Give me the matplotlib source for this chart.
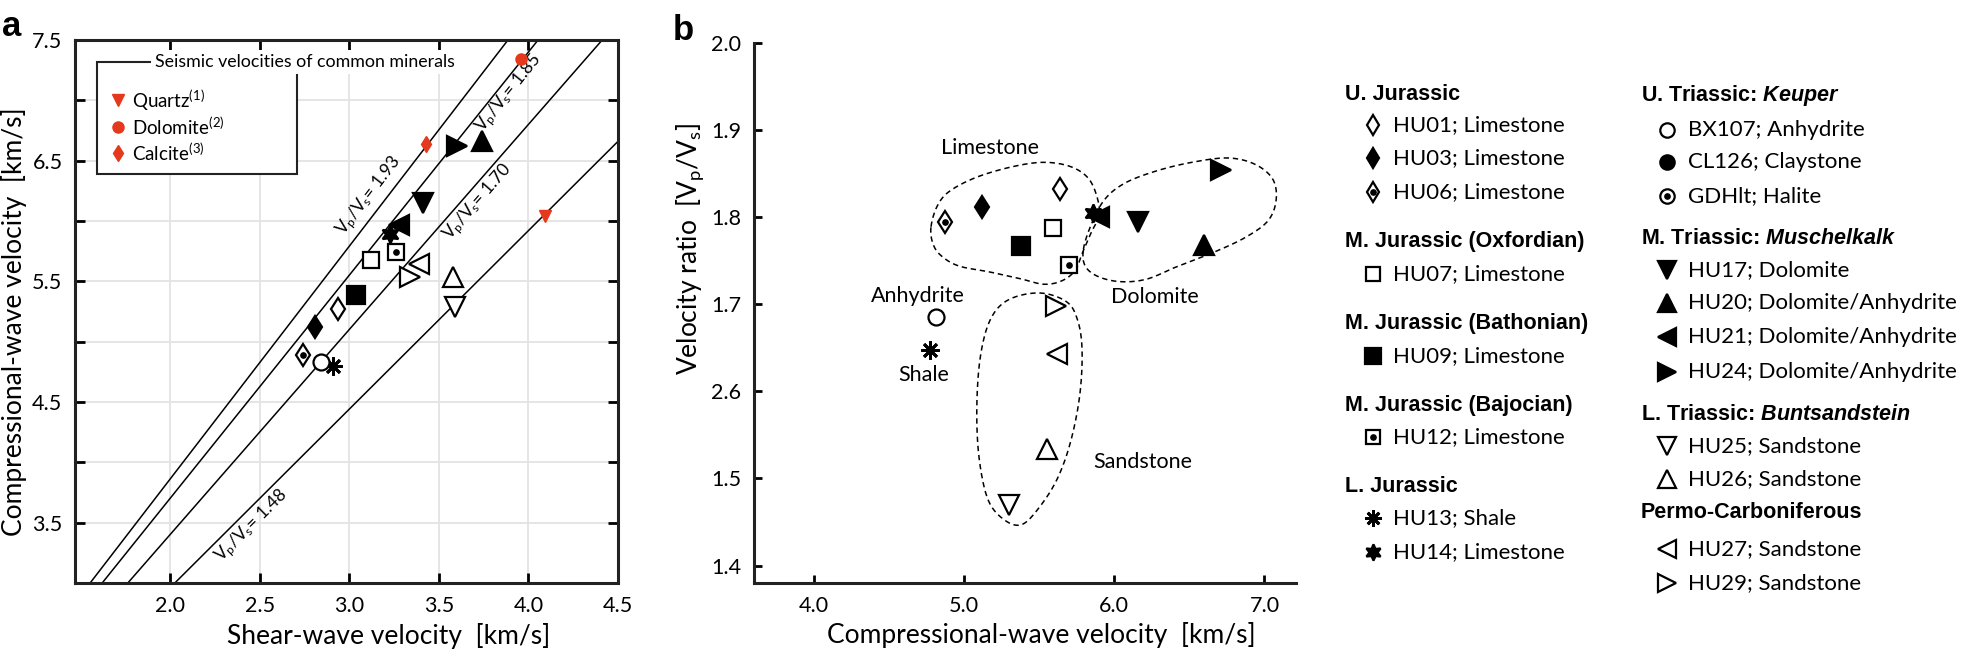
import numpy as np
import matplotlib
matplotlib.use("Agg")
import matplotlib.pyplot as plt
from matplotlib.patches import Rectangle

plt.rcParams["font.family"] = ["Lato", "DejaVu Sans"]
plt.rcParams["mathtext.fontset"] = "custom"
plt.rcParams["mathtext.rm"] = "Lato"
plt.rcParams["mathtext.it"] = "Lato:italic"
plt.rcParams["mathtext.bf"] = "Liberation Sans:bold"
plt.rcParams["mathtext.bfit"] = "Liberation Sans:bold:italic"
plt.rcParams["mathtext.default"] = "regular"

W, H = 1961, 653
RED = "#e5391d"

# ---- data: samples -------------------------------------------------------
samples = ["HU01", "HU03", "HU06", "HU07", "HU09", "HU12", "HU13", "HU14",
           "BX107", "HU17", "HU20", "HU21", "HU24", "HU25", "HU26", "HU27", "HU29"]
# panel a: shear-wave vs compressional-wave velocity [km/s]
vs_a = [2.94, 2.81, 2.74, 3.12, 3.04, 3.26, 2.91, 3.23,
        2.84, 3.41, 3.74, 3.28, 3.60, 3.59, 3.58, 3.39, 3.34]
vp_a = [5.27, 5.12, 4.89, 5.68, 5.39, 5.74, 4.80, 5.89,
        4.83, 6.15, 6.66, 5.97, 6.62, 5.29, 5.54, 5.64, 5.54]
# panel b: compressional-wave velocity vs Vp/Vs
vp_b = [5.64, 5.12, 4.87, 5.59, 5.38, 5.70, 4.77, 5.86,
        4.81, 6.16, 6.60, 5.90, 6.71, 5.30, 5.55, 5.62, 5.61]
ratio_b = [1.832, 1.812, 1.795, 1.788, 1.767, 1.745, 1.647, 1.805,
           1.685, 1.794, 1.768, 1.800, 1.854, 1.470, 1.534, 1.643, 1.698]

# reference minerals (panel a)
minerals = ["Quartz", "Dolomite", "Calcite"]
mineral_refs = ["(1)", "(2)", "(3)"]
mineral_vs = [4.09, 3.96, 3.43]
mineral_vp = [6.04, 7.34, 6.64]

# constant Vp/Vs lines and where their labels sit
ratios = [1.93, 1.85, 1.70, 1.48]
ratio_label_vs = [3.11, 3.89, 3.72, 2.46]
ratio_label_vp = [6.21, 7.06, 6.16, 3.47]

# lithology outlines in panel b (Vp, Vp/Vs)
limestone_vp = [4.779, 4.821, 4.904, 5.084, 5.322, 5.531, 5.710, 5.830, 5.890, 5.896,
                5.845, 5.785, 5.740, 5.651, 5.531, 5.382, 5.173, 4.964, 4.845, 4.791]
limestone_r = [1.789, 1.813, 1.830, 1.846, 1.858, 1.863, 1.858, 1.844, 1.820, 1.801,
               1.782, 1.758, 1.739, 1.727, 1.723, 1.729, 1.737, 1.744, 1.756, 1.770]
dolomite_vp = [5.794, 5.845, 5.934, 6.069, 6.278, 6.516, 6.755, 6.934, 7.054, 7.078,
               7.024, 6.875, 6.666, 6.427, 6.218, 6.039, 5.890, 5.806]
dolomite_r = [1.763, 1.791, 1.820, 1.839, 1.853, 1.863, 1.868, 1.861, 1.844, 1.820,
              1.796, 1.777, 1.760, 1.744, 1.729, 1.726, 1.732, 1.744]
sandstone_vp = [5.501, 5.681, 5.755, 5.785, 5.770, 5.710, 5.621, 5.501,
                5.382, 5.263, 5.158, 5.099, 5.084, 5.107, 5.173, 5.293]
sandstone_r = [1.713, 1.703, 1.682, 1.648, 1.596, 1.543, 1.500, 1.467,
               1.447, 1.453, 1.476, 1.524, 1.581, 1.639, 1.682, 1.705]

lith_names = ["Limestone", "Dolomite", "Anhydrite", "Shale", "Sandstone"]
lith_vp = [5.17, 6.27, 4.69, 4.73, 6.19]
lith_r = [1.880, 1.708, 1.709, 1.619, 1.519]

a_xticks = [2.0, 2.5, 3.0, 3.5, 4.0, 4.5]
a_yticks = [3.5, 4.0, 4.5, 5.0, 5.5, 6.0, 6.5, 7.0, 7.5]
a_yticklabels = ["3.5", "", "4.5", "", "5.5", "", "6.5", "", "7.5"]
b_xticks = [4.0, 5.0, 6.0, 7.0]
b_yticks = [1.4, 1.5, 1.6, 1.7, 1.8, 1.9, 2.0]
b_yticklabels = ["1.4", "1.5", "2.6", "1.7", "1.8", "1.9", "2.0"]

# legend groups (header, entries)
legend_left = [
    (r"U. Jurassic", [("HU01", "Limestone"), ("HU03", "Limestone"), ("HU06", "Limestone")]),
    (r"M. Jurassic (Oxfordian)", [("HU07", "Limestone")]),
    (r"M. Jurassic (Bathonian)", [("HU09", "Limestone")]),
    (r"M. Jurassic (Bajocian)", [("HU12", "Limestone")]),
    (r"L. Jurassic", [("HU13", "Shale"), ("HU14", "Limestone")]),
]
legend_right = [
    (r"U. Triassic: $\mathbfit{Keuper}$", [("BX107", "Anhydrite"), ("CL126", "Claystone"), ("GDHlt", "Halite")]),
    (r"M. Triassic: $\mathbfit{Muschelkalk}$", [("HU17", "Dolomite"), ("HU20", "Dolomite/Anhydrite"),
                                               ("HU21", "Dolomite/Anhydrite"), ("HU24", "Dolomite/Anhydrite")]),
    (r"L. Triassic: $\mathbfit{Buntsandstein}$", [("HU25", "Sandstone"), ("HU26", "Sandstone")]),
    (r"Permo-Carboniferous", [("HU27", "Sandstone"), ("HU29", "Sandstone")]),
]

# ---- marker styles -----------------------------------------------------------
# marker, filled, dot in centre, size
style = {
    "HU01": ("d", False, False, 11.5), "HU03": ("d", True, False, 11.5), "HU06": ("d", False, True, 11.5),
    "HU07": ("s", False, False, 11.5), "HU09": ("s", True, False, 12.5), "HU12": ("s", False, True, 11.5),
    "HU13": ((8, 2, 0), True, False, 13), "HU14": ((6, 1, 0), True, False, 13),
    "BX107": ("o", False, False, 11.5), "CL126": ("o", True, False, 11.5), "GDHlt": ("o", False, True, 11.5),
    "HU17": ("v", True, False, 15), "HU20": ("^", True, False, 15), "HU21": ("<", True, False, 15),
    "HU24": (">", True, False, 15), "HU25": ("v", False, False, 15), "HU26": ("^", False, False, 15),
    "HU27": ("<", False, False, 15), "HU29": (">", False, False, 15),
}


def draw_marker(ax, x, y, name, scale=1.0):
    m, filled, dot, ms = style[name]
    ms = ms * scale
    mew = 2.0 if m == (8, 2, 0) else 1.6
    ax.plot(x, y, ls="none", marker=m, ms=ms, mfc="black" if filled else "white",
            mec="black", mew=mew, zorder=5)
    if dot:
        ax.plot(x, y, ls="none", marker="o", ms=3.8, mfc="black", mec="black", zorder=6)


def smooth_closed(x, y, n=24):
    pts = np.column_stack([x, y])
    P = np.vstack([pts[-1], pts, pts[0], pts[1]])
    t = np.linspace(0, 1, n, endpoint=False)[:, None]
    segs = []
    for i in range(1, len(pts) + 1):
        p0, p1, p2, p3 = P[i - 1], P[i], P[i + 1], P[i + 2]
        segs.append(0.5 * (2 * p1 + (-p0 + p2) * t + (2 * p0 - 5 * p1 + 4 * p2 - p3) * t ** 2
                           + (-p0 + 3 * p1 - 3 * p2 + p3) * t ** 3))
    out = np.vstack(segs + [segs[0][:1]])
    return out[:, 0], out[:, 1]


fig = plt.figure(figsize=(W / 100, H / 100), dpi=100)

# ---- panel a -----------------------------------------------------------------
ax = fig.add_axes([75 / W, 1 - 583 / H, 543 / W, 543 / H])
ax.set_xlim(1.47, 4.5)
ax.set_ylim(3.0, 7.5)
ax.set_xticks(a_xticks)
ax.set_xticklabels([f"{v:.1f}" for v in a_xticks])
ax.set_yticks(a_yticks)
ax.set_yticklabels(a_yticklabels)
ax.tick_params(direction="in", top=True, right=True, length=7, width=2, labelsize=15.5, pad=9)
ax.grid(True, color="#e3e3e3", lw=1.3, zorder=0)
for s in ax.spines.values():
    s.set_linewidth(2.2)
    s.set_color("#222222")

xs = np.array([1.4, 4.6])
for r, lx, ly in zip(ratios, ratio_label_vs, ratio_label_vp):
    ax.plot(xs, r * xs, color="black", lw=1.1, zorder=2)
    p1 = ax.transData.transform((2.0, 2.0 * r))
    p2 = ax.transData.transform((3.0, 3.0 * r))
    ang = np.degrees(np.arctan2(p2[1] - p1[1], p2[0] - p1[0]))
    ax.text(lx, ly, r"V$_p$/V$_s$= " + f"{r:.2f}", rotation=ang, rotation_mode="anchor",
            ha="center", va="center", fontsize=12.5, zorder=3)

for i, name in enumerate(samples):
    draw_marker(ax, vs_a[i], vp_a[i], name)

mineral_markers = ["v", "o", "d"]
mineral_ms = [9, 8, 8.5]
for mk, msz, x, y in zip(mineral_markers, mineral_ms, mineral_vs, mineral_vp):
    ax.plot(x, y, ls="none", marker=mk, ms=msz, color=RED, zorder=5)

# mineral legend box (white frame, title breaks its top edge)
box = Rectangle((97 / W, 1 - 174 / H), 200 / W, 112 / H, transform=fig.transFigure,
                facecolor="white", edgecolor="#222222", lw=1.5, zorder=7)
fig.add_artist(box)
fig.text(155 / W, 1 - 62 / H, "Seismic velocities of common minerals", fontsize=12.8,
         va="center", ha="left", zorder=8,
         bbox=dict(facecolor="white", edgecolor="none", pad=3))
for k, (mk, msz, name, ref) in enumerate(zip(mineral_markers, mineral_ms, minerals, mineral_refs)):
    yy = 1 - (100 + 26.5 * k) / H
    fig.add_artist(plt.Line2D([118 / W], [yy], transform=fig.transFigure, ls="none",
                              marker=mk, ms=msz, color=RED, zorder=9))
    fig.text(132 / W, yy, name + r"$^{" + ref + "}$", fontsize=13.5, va="center", zorder=9)

ax.set_xlabel("Shear-wave velocity  [km/s]", fontsize=19, va="center")
ax.xaxis.set_label_coords((389 - 75) / 543, -(636 - 583) / 543)
ax.set_ylabel("Compressional-wave velocity  [km/s]", fontsize=19, va="center")
ax.yaxis.set_label_coords(-(75 - 14) / 543, (583 - 322) / 543)
fig.text(12 / W, 1 - 27 / H, "a", fontsize=25, fontweight="bold", family="Liberation Sans",
         ha="center", va="center")

# ---- panel b -----------------------------------------------------------------
bx = fig.add_axes([754 / W, 1 - 583 / H, 542 / W, 540 / H])
bx.set_xlim(3.6, 7.21)
bx.set_ylim(1.38, 2.0)
bx.set_xticks(b_xticks)
bx.set_xticklabels([f"{v:.1f}" for v in b_xticks])
bx.set_yticks(b_yticks)
bx.set_yticklabels(b_yticklabels)
bx.tick_params(direction="in", length=6, width=2, labelsize=15.5, pad=9)
for side in ["top", "right"]:
    bx.spines[side].set_visible(False)
for side in ["left", "bottom"]:
    bx.spines[side].set_linewidth(2.2)
    bx.spines[side].set_color("#222222")

for ox, oy in [(limestone_vp, limestone_r), (dolomite_vp, dolomite_r), (sandstone_vp, sandstone_r)]:
    sx, sy = smooth_closed(ox, oy)
    bx.plot(sx, sy, color="black", lw=1.1, ls=(0, (3.5, 2.5)), zorder=2)

for i, name in enumerate(samples):
    draw_marker(bx, vp_b[i], ratio_b[i], name)

for name, x, y in zip(lith_names, lith_vp, lith_r):
    bx.text(x, y, name, fontsize=15.5, ha="center", va="center")

bx.set_xlabel("Compressional-wave velocity  [km/s]", fontsize=19, va="center")
bx.xaxis.set_label_coords((1041 - 754) / 542, -(635 - 583) / 540)
bx.set_ylabel(r"Velocity ratio  [V$_p$/V$_s$]", fontsize=19, va="center")
bx.yaxis.set_label_coords(-(754 - 690) / 542, (583 - 249) / 540)
fig.text(683 / W, 1 - 31 / H, "b", fontsize=25, fontweight="bold", family="Liberation Sans",
         ha="center", va="center")

# ---- sample legend -----------------------------------------------------------
lg = fig.add_axes([0, 0, 1, 1], facecolor="none")
lg.set_xlim(0, W)
lg.set_ylim(H, 0)
lg.axis("off")


def legend_column(groups, x_head, x_mark, x_text, ys):
    k = 0
    for head, entries in groups:
        lg.text(x_head, ys[k], head, fontsize=15.5, fontweight="bold", family="Liberation Sans",
                va="center", ha="left")
        k += 1
        for code, lith in entries:
            draw_marker(lg, x_mark, ys[k], code, scale=0.9)
            lg.text(x_text, ys[k], f"{code}; {lith}", fontsize=16, va="center", ha="left")
            k += 1


left_rows = [94, 125, 158, 192, 242, 274, 324, 356, 406, 437, 486, 518, 552]
right_rows = [96, 130, 162, 196, 239, 270, 303, 337, 372, 415, 446, 479, 513, 549, 583]
legend_column(legend_left, 1345, 1373, 1393, left_rows)
legend_column(legend_right, 1641, 1667, 1688, right_rows)

fig.savefig("out.png", dpi=100)
